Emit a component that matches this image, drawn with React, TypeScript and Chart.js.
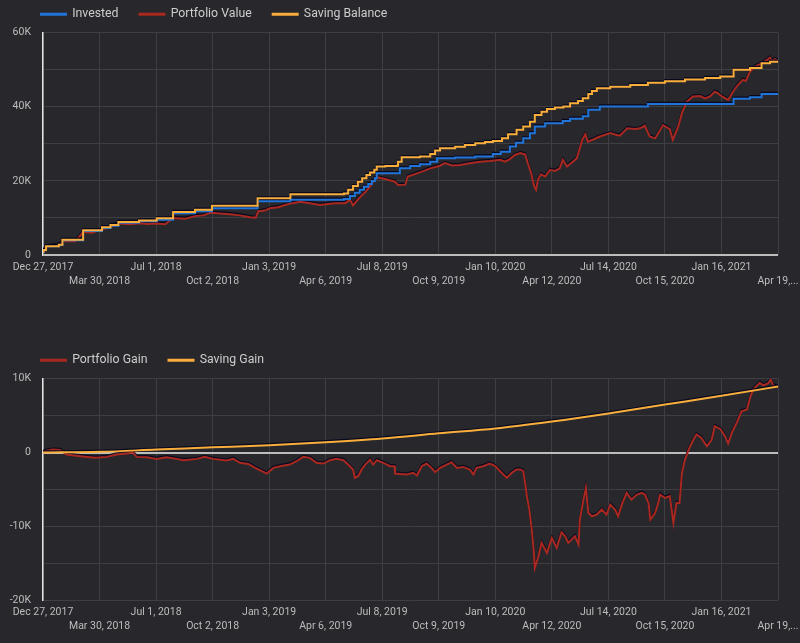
import React, { useEffect, useRef } from "react";
import { Chart, registerables } from "chart.js";

Chart.register(...registerables);

// ---------- data (x = days since Dec 27, 2017) ----------
const tickDays = [0, 93, 186, 279, 372, 465, 558, 651, 744, 837, 930, 1023, 1116, 1209];
const tickLabels = [
  "Dec 27, 2017", "Mar 30, 2018", "Jul 1, 2018", "Oct 2, 2018", "Jan 3, 2019",
  "Apr 6, 2019", "Jul 8, 2019", "Oct 9, 2019", "Jan 10, 2020", "Apr 12, 2020",
  "Jul 14, 2020", "Oct 15, 2020", "Jan 16, 2021", "Apr 19,...",
];

const investedDays = [
  0, 1, 5, 26, 32, 66, 97, 111, 124, 158, 187, 214, 250, 278, 353, 407, 495, 505, 513, 521,
  528, 535, 541, 546, 549, 587, 604, 620, 637, 648, 678, 711, 740, 753, 768, 778, 790, 801, 809, 826,
  855, 867, 888, 897, 916, 995, 1136, 1163, 1182, 1209,
];
const investedValues = [
  900, 1350, 2350, 2800, 4000, 6500, 7300, 7900, 8700, 9100, 9500, 11300, 11800, 12600, 14500, 14900, 15100, 15900, 16800, 17600,
  18400, 19200, 20000, 20700, 22100, 23400, 24000, 24500, 25200, 26100, 26300, 26600, 27300, 27900, 29300, 30300, 31500, 32900, 34700, 35600,
  36200, 36800, 37500, 39200, 40100, 40800, 42200, 42600, 43500, 43500,
];

const savingDays = [
  0, 1, 5, 26, 32, 66, 97, 111, 124, 158, 187, 214, 250, 278, 353, 407, 495, 502, 510, 518,
  525, 532, 538, 545, 549, 563, 582, 584, 590, 620, 637, 645, 653, 678, 694, 711, 727, 740, 755, 765,
  779, 790, 801, 809, 820, 829, 842, 856, 867, 880, 888, 897, 903, 911, 933, 966, 995, 1023, 1056, 1089,
  1114, 1136, 1163, 1182, 1196, 1209,
];
const savingValues = [
  900, 1350, 2350, 2800, 4100, 6700, 7500, 8100, 8900, 9300, 9900, 11600, 12200, 13300, 15300, 16400, 16600, 17600, 18600, 19800,
  20700, 21600, 22300, 23000, 23900, 24000, 24100, 25200, 26400, 26600, 27300, 28200, 28800, 29200, 29700, 30200, 30500, 30800, 31500, 32600,
  33800, 34700, 36000, 37800, 38700, 39400, 39800, 40100, 41000, 41600, 42300, 43500, 44300, 45000, 45400, 45900, 46500, 46900, 47400, 47800,
  48200, 50000, 50500, 51800, 52200, 52400,
];

const portfolioDays = [
  0, 2, 5, 26, 33, 53, 66, 81, 95, 110, 123, 143, 158, 173, 186, 201, 214, 234, 250, 263,
  276, 291, 308, 324, 341, 350, 354, 365, 373, 387, 398, 410, 423, 439, 456, 469, 480, 497, 505, 510,
  518, 525, 531, 538, 543, 549, 563, 579, 584, 596, 600, 620, 637, 653, 661, 673, 686, 702, 719, 735,
  752, 760, 768, 776, 785, 793, 798, 803, 808, 811, 814, 819, 826, 834, 842, 850, 855, 862, 870, 878,
  887, 892, 896, 905, 916, 933, 944, 949, 961, 974, 982, 990, 998, 1007, 1020, 1031, 1036, 1045, 1051, 1059,
  1069, 1081, 1089, 1097, 1105, 1110, 1117, 1127, 1135, 1143, 1151, 1156, 1163, 1171, 1183, 1191, 1196, 1199, 1204, 1209,
];
const portfolioValues = [
  900, 1300, 2300, 2700, 3800, 3700, 6200, 6000, 6900, 7400, 8500, 8300, 8600, 8400, 8500, 8300, 10000, 9800, 10500, 10700,
  11400, 11200, 11000, 10700, 10200, 10100, 11800, 12000, 12600, 12900, 13500, 14000, 14400, 14000, 13500, 13800, 14000, 14000, 14900, 13400,
  15000, 16200, 17100, 18500, 19800, 21000, 20500, 19800, 18900, 19000, 21200, 22300, 23400, 24100, 24800, 24200, 24300, 24800, 25200, 25400,
  25700, 25200, 25900, 27000, 27500, 27200, 24500, 22100, 18500, 17600, 20300, 21800, 21200, 23000, 22700, 23400, 25700, 23900, 25000, 26100,
  31100, 32600, 30600, 31200, 32000, 32900, 32400, 32200, 34200, 34000, 34200, 34900, 32000, 31500, 35100, 34000, 31100, 34700, 38300, 41400,
  42800, 42900, 42300, 42800, 44100, 43700, 42800, 41900, 44100, 45900, 47300, 47000, 49500, 50900, 51800, 52700, 53300, 52400, 52900, 52500,
];

const gainDays = [
  0, 3, 16, 28, 39, 61, 86, 105, 121, 138, 148, 154, 171, 187, 203, 220, 231, 253, 266, 280,
  302, 313, 324, 338, 349, 360, 368, 379, 390, 406, 417, 428, 439, 450, 461, 472, 483, 494, 502, 510,
  513, 519, 524, 530, 538, 543, 549, 560, 571, 578, 579, 598, 609, 615, 623, 631, 639, 645, 653, 664,
  672, 681, 691, 702, 708, 713, 724, 735, 744, 752, 763, 771, 779, 785, 790, 793, 796, 800, 804, 807,
  809, 815, 820, 829, 837, 845, 853, 859, 864, 875, 881, 883, 889, 893, 897, 903, 911, 919, 927, 933,
  941, 946, 952, 960, 968, 977, 985, 990, 996, 999, 1007, 1012, 1015, 1023, 1031, 1037, 1042, 1047, 1051, 1056,
  1062, 1070, 1075, 1083, 1092, 1100, 1105, 1114, 1122, 1127, 1133, 1141, 1149, 1158, 1163, 1168, 1179, 1185, 1193, 1197,
  1201, 1209,
];
const portfolioGainValues = [
  0, 180, 400, 350, -270, -500, -720, -590, -270, -140, 0, -590, -630, -860, -630, -860, -1040, -860, -590, -860,
  -1090, -860, -1400, -1540, -2080, -2530, -2850, -2080, -1850, -1630, -1180, -590, -720, -1400, -1500, -1040, -860, -1040, -1630, -2300,
  -3440, -3140, -2300, -1630, -950, -1630, -1040, -1400, -1850, -1850, -2850, -2990, -2750, -3120, -1860, -1490, -2080, -2660, -2080, -1630,
  -1310, -2080, -1950, -2300, -2990, -2080, -1850, -1490, -1850, -2530, -3440, -2750, -2300, -2300, -2530, -4110, -5930, -7730, -10450, -13160,
  -15650, -14070, -12250, -13610, -11570, -12930, -10810, -11360, -12250, -11360, -12480, -9090, -6380, -4790, -8180, -8640, -8410, -7730, -8410, -7060,
  -7730, -8640, -7060, -5470, -6380, -5700, -5470, -5700, -6830, -9090, -8180, -6830, -5700, -6150, -5900, -9540, -6830, -6830, -2760, -950,
  400, 1760, 2440, 1990, 850, 1760, 3570, 3200, 2210, 1220, 2670, 4030, 5600, 5830, 7420, 8550, 9460, 9090, 9400, 9910,
  9090, 8910,
];

const savingGainDays = [0, 93, 186, 279, 372, 465, 558, 651, 744, 837, 930, 1023, 1116, 1209];
const savingGainValues = [0, 100, 400, 700, 1000, 1400, 1900, 2600, 3250, 4200, 5300, 6500, 7700, 8950];

// ---------- styles ----------
const BG = "#27272c";
const GRID = "#3e3e43";
const ZERO = "#bdbdbd";
const AXIS = "#e6e6e6";
const TICK_TEXT = "#bdbdbd";
const LEGEND_TEXT = "#cdcdcd";
const BLUE = "#2174d8";
const RED = "#a9281f";
const ORANGE = "#f9ae3c";
const FONT = "Roboto, 'Noto Sans', sans-serif";

const pts = (xs: number[], ys: number[]) => xs.map((x, i) => ({ x, y: ys[i] }));
const fmtK = (v: number) => (v === 0 ? "0" : `${v / 1000}K`);

// extra space under the legend, and legend shifted right to line up with the plot
const legendSpacer = {
  id: "legendSpacer",
  beforeLayout(chart: any) {
    const lg = chart.legend;
    if (lg && !lg._spaced) {
      const fit = lg.fit.bind(lg);
      lg.fit = function () {
        fit();
        this.height += 2.5;
      };
      lg._spaced = true;
    }
  },
  afterLayout(chart: any) {
    const lg = chart.legend;
    if (lg) {
      lg.left = 20;
    }
  },
};

const lineShadow = {
  id: "lineShadow",
  beforeDatasetDraw(chart: any) {
    const c = chart.ctx;
    c.save();
    c.shadowColor = "rgba(6,6,30,0.9)";
    c.shadowOffsetY = -1.2;
    c.shadowOffsetX = 0;
    c.shadowBlur = 0;
  },
  afterDatasetDraw(chart: any) {
    chart.ctx.restore();
  },
};

function makeOptions(yMin: number, yMax: number, yStep: number, labelStep: number): any {
  return {
    responsive: false,
    animation: false,
    devicePixelRatio: 1,
    layout: { padding: { left: 0, right: 0, top: 0, bottom: 0 } },
    plugins: {
      legend: {
        display: true,
        position: "top",
        align: "start",
        labels: {
          boxWidth: 25,
          boxHeight: 1,
          padding: 21,
          color: LEGEND_TEXT,
          font: { size: 12.3, family: FONT },
          sort: (a: any, b: any) => a.datasetIndex - b.datasetIndex,
        },
      },
      tooltip: { enabled: false },
    },
    elements: { point: { radius: 0 }, line: { borderWidth: 2 } },
    scales: {
      x: {
        type: "linear",
        min: 0,
        max: 1209,
        afterBuildTicks: (s: any) => {
          s.ticks = tickDays.map((v) => ({ value: v }));
        },
        afterFit: (s: any) => {
          s.height = 40;
          s.paddingRight = 22;
          s.paddingLeft = 0;
        },
        grid: { color: GRID, lineWidth: 1, drawTicks: false },
        border: { display: false },
        ticks: {
          autoSkip: false,
          maxRotation: 0,
          minRotation: 0,
          padding: 5,
          color: TICK_TEXT,
          font: { size: 10.5, family: FONT, lineHeight: 1.35 },
          callback: (_v: any, i: number) => (i % 2 === 0 ? [tickLabels[i]] : ["", tickLabels[i]]),
        },
      },
      y: {
        type: "linear",
        min: yMin,
        max: yMax,
        afterFit: (s: any) => {
          s.width = 43;
        },
        grid: {
          color: (ctx: any) => (ctx.tick && ctx.tick.value === 0 ? ZERO : GRID),
          lineWidth: (ctx: any) => (ctx.tick && ctx.tick.value === 0 ? 2 : 1),
          drawTicks: false,
        },
        border: { display: true, color: AXIS, width: 1.5 },
        ticks: {
          stepSize: yStep,
          padding: 12,
          color: TICK_TEXT,
          font: { size: 10.5, family: FONT },
          callback: (v: number) => (v % labelStep === 0 ? fmtK(v) : ""),
        },
      },
    },
  };
}

export default function App() {
  const topRef = useRef<HTMLCanvasElement>(null);
  const bottomRef = useRef<HTMLCanvasElement>(null);

  useEffect(() => {
    document.body.style.margin = "0";
    document.body.style.background = BG;

    const top = new Chart(topRef.current as HTMLCanvasElement, {
      type: "line",
      data: {
        datasets: [
          {
            label: "Invested",
            data: pts(investedDays, investedValues),
            borderColor: BLUE,
            backgroundColor: BLUE,
            stepped: "before",
            order: 1,
          },
          {
            label: "Portfolio Value",
            data: pts(portfolioDays, portfolioValues),
            borderColor: RED,
            backgroundColor: RED,
            order: 2,
          },
          {
            label: "Saving Balance",
            data: pts(savingDays, savingValues),
            borderColor: ORANGE,
            backgroundColor: ORANGE,
            stepped: "before",
            order: 0,
          },
        ],
      } as any,
      options: makeOptions(0, 60000, 10000, 20000),
      plugins: [legendSpacer, lineShadow],
    });

    const bottom = new Chart(bottomRef.current as HTMLCanvasElement, {
      type: "line",
      data: {
        datasets: [
          {
            label: "Portfolio Gain",
            data: pts(gainDays, portfolioGainValues),
            borderColor: RED,
            backgroundColor: RED,
            order: 1,
          },
          {
            label: "Saving Gain",
            data: pts(savingGainDays, savingGainValues),
            borderColor: ORANGE,
            backgroundColor: ORANGE,
            cubicInterpolationMode: "monotone",
            order: 0,
          },
        ],
      } as any,
      options: makeOptions(-20000, 10000, 5000, 10000),
      plugins: [legendSpacer, lineShadow],
    });

    return () => {
      top.destroy();
      bottom.destroy();
    };
  }, []);

  return (
    <div style={{ position: "relative", width: 800, height: 643, overflow: "hidden", background: BG }}>
      <canvas ref={topRef} width={800} height={308} style={{ position: "absolute", left: 0, top: -13, width: 800, height: 308 }} />
      <canvas ref={bottomRef} width={800} height={307} style={{ position: "absolute", left: 0, top: 333, width: 800, height: 307 }} />
    </div>
  );
}
